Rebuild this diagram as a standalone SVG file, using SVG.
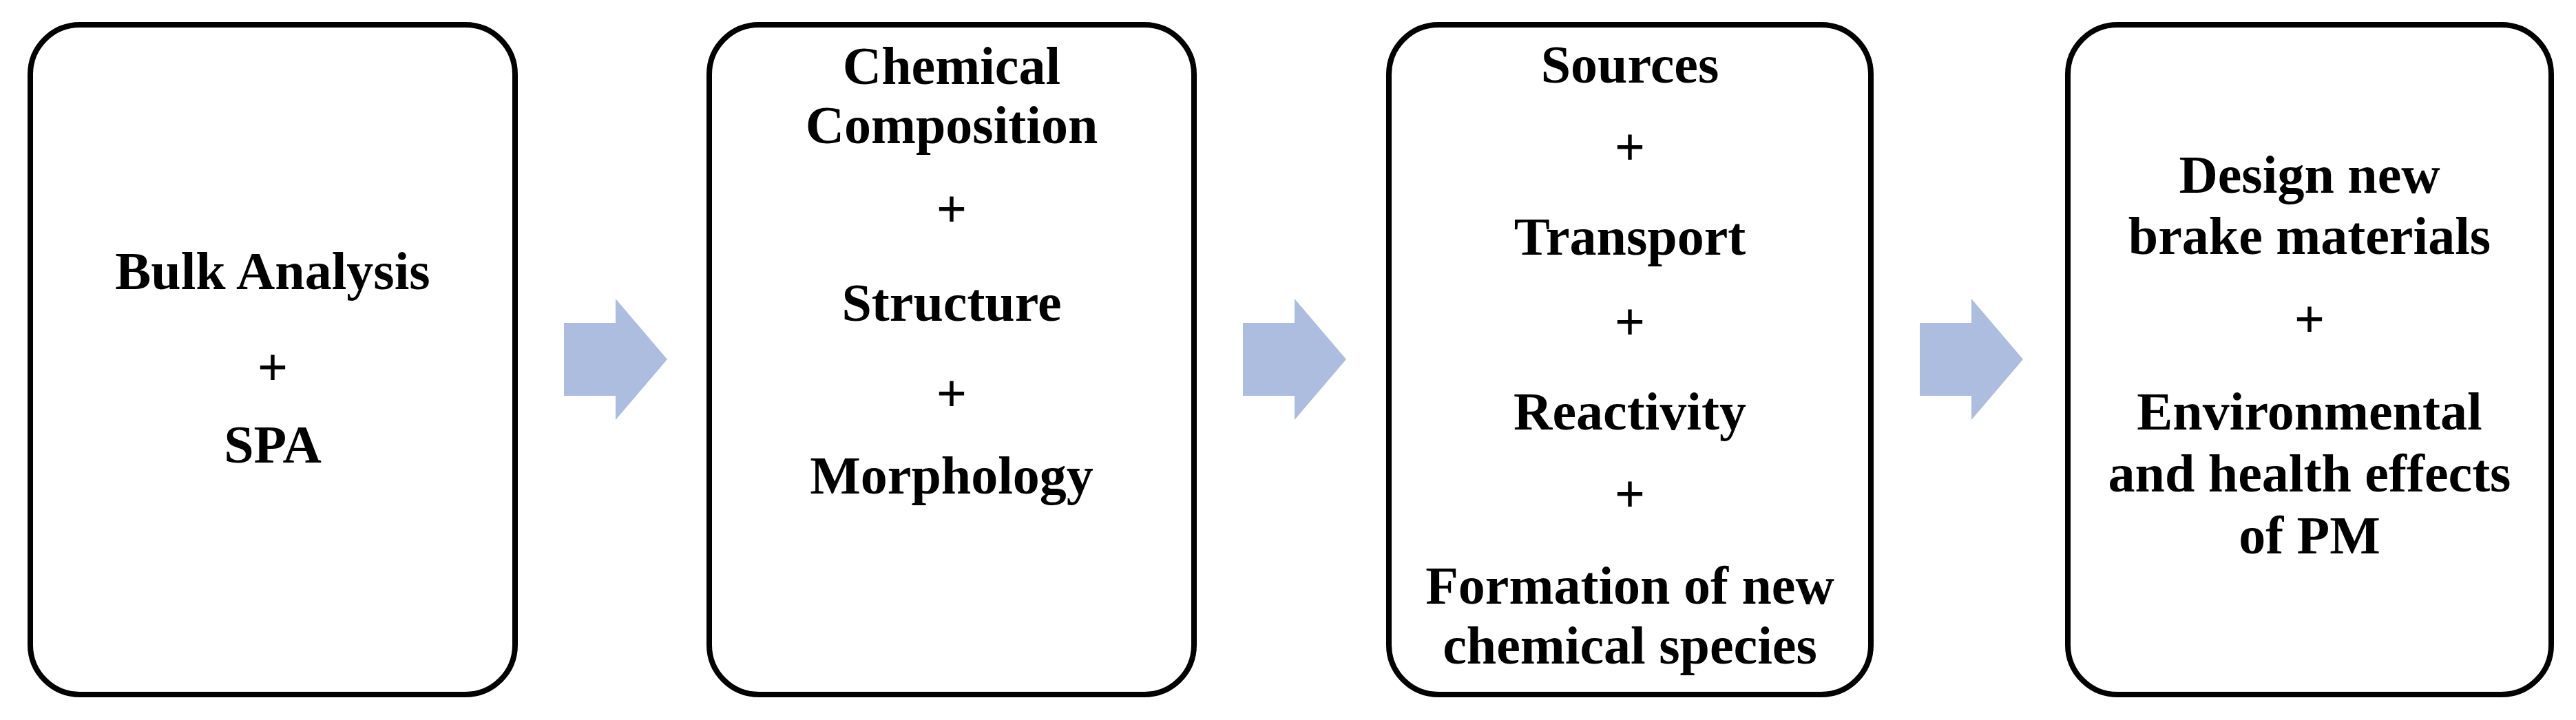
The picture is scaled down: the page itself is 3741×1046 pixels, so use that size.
<svg xmlns="http://www.w3.org/2000/svg" width="3741" height="1046" viewBox="0 0 3741 1046">
<style>
.box{fill:#fff;stroke:#000;stroke-width:8}
.t{font-family:"Liberation Serif",serif;font-weight:bold;font-size:78px;text-anchor:middle;fill:#000}
.arr{fill:#adbde0}
</style>
<rect width="3741" height="1046" fill="#fff"/>
<g id="node1"><rect class="box" x="44" y="36" width="704" height="973" rx="72"/>
<text class="t" x="396" y="420">Bulk Analysis</text><text class="t" x="396" y="560">+</text><text class="t" x="396" y="672">SPA</text></g>
<g id="node2"><rect class="box" x="1030" y="36" width="704" height="973" rx="72"/>
<text class="t" x="1382" y="122">Chemical</text><text class="t" x="1382" y="208">Composition</text><text class="t" x="1382" y="330">+</text><text class="t" x="1382" y="466">Structure</text><text class="t" x="1382" y="598">+</text><text class="t" x="1382" y="717">Morphology</text></g>
<g id="node3"><rect class="box" x="2017" y="36" width="700" height="973" rx="72"/>
<text class="t" x="2367" y="120">Sources</text><text class="t" x="2367" y="240">+</text><text class="t" x="2367" y="370">Transport</text><text class="t" x="2367" y="494">+</text><text class="t" x="2367" y="624">Reactivity</text><text class="t" x="2367" y="744">+</text><text class="t" x="2367" y="877">Formation of new</text><text class="t" x="2367" y="964">chemical species</text></g>
<g id="node4"><rect class="box" x="3003" y="36" width="702" height="973" rx="72"/>
<text class="t" x="3354" y="280">Design new</text><text class="t" x="3354" y="369">brake materials</text><text class="t" x="3354" y="490">+</text><text class="t" x="3354" y="624">Environmental</text><text class="t" x="3354" y="714">and health effects</text><text class="t" x="3354" y="804">of PM</text></g>
<g id="connectors">
<polygon class="arr" points="819,469 894,469 894,434 969,522 894,610 894,575 819,575"/>
<polygon class="arr" points="1805,469 1880,469 1880,434 1955,522 1880,610 1880,575 1805,575"/>
<polygon class="arr" points="2788,469 2863,469 2863,434 2938,522 2863,610 2863,575 2788,575"/>
</g>
</svg>
